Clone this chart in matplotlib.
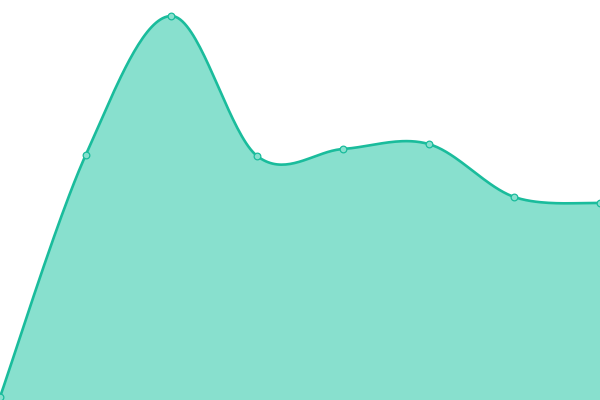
"""
Area spline chart — single teal series, no axes.
"""

import numpy as np
import matplotlib
matplotlib.use("Agg")
import matplotlib.pyplot as plt

# ─────────────────────────────────────────────
# DATA
# ─────────────────────────────────────────────
categories = [0, 1, 2, 3, 4, 5, 6, 7]
values = [3, 245, 384, 244, 251, 256, 203, 197]

Y_MAX = 400

LINE_COLOR = "#1abc9c"
FILL_COLOR = "#88e0ce"


def catmull_rom(xs, ys, steps=40):
    """Uniform Catmull-Rom spline through the points (ends duplicated)."""
    px = np.concatenate([[xs[0]], xs, [xs[-1]]]).astype(float)
    py = np.concatenate([[ys[0]], ys, [ys[-1]]]).astype(float)
    out_x, out_y = [], []
    t = np.linspace(0, 1, steps)
    for i in range(1, len(px) - 2):
        # bezier control points
        x0, y0 = px[i], py[i]
        x3, y3 = px[i + 1], py[i + 1]
        x1 = x0 + (px[i + 1] - px[i - 1]) / 6
        y1 = y0 + (py[i + 1] - py[i - 1]) / 6
        x2 = x3 - (px[i + 2] - px[i]) / 6
        y2 = y3 - (py[i + 2] - py[i]) / 6
        bx = (1 - t) ** 3 * x0 + 3 * t * (1 - t) ** 2 * x1 + 3 * t ** 2 * (1 - t) * x2 + t ** 3 * x3
        by = (1 - t) ** 3 * y0 + 3 * t * (1 - t) ** 2 * y1 + 3 * t ** 2 * (1 - t) * y2 + t ** 3 * y3
        out_x.append(bx if i == 1 else bx[1:])
        out_y.append(by if i == 1 else by[1:])
    return np.concatenate(out_x), np.concatenate(out_y)


def main():
    xs, ys = catmull_rom(categories, values)

    fig = plt.figure(figsize=(6, 4), dpi=100)
    ax = fig.add_axes([0, 0, 1, 1])
    ax.fill_between(xs, ys, 0, color=FILL_COLOR, linewidth=0)
    ax.plot(xs, ys, color=LINE_COLOR, linewidth=1.9, solid_capstyle="round")
    ax.plot(categories, values, linestyle="none", marker="o", markersize=4.8,
            markerfacecolor=FILL_COLOR, markeredgecolor=LINE_COLOR, markeredgewidth=0.9)

    ax.set_xlim(categories[0], categories[-1])
    ax.set_ylim(0, Y_MAX)
    ax.axis("off")

    fig.savefig("out.png", dpi=100)


if __name__ == "__main__":
    main()
